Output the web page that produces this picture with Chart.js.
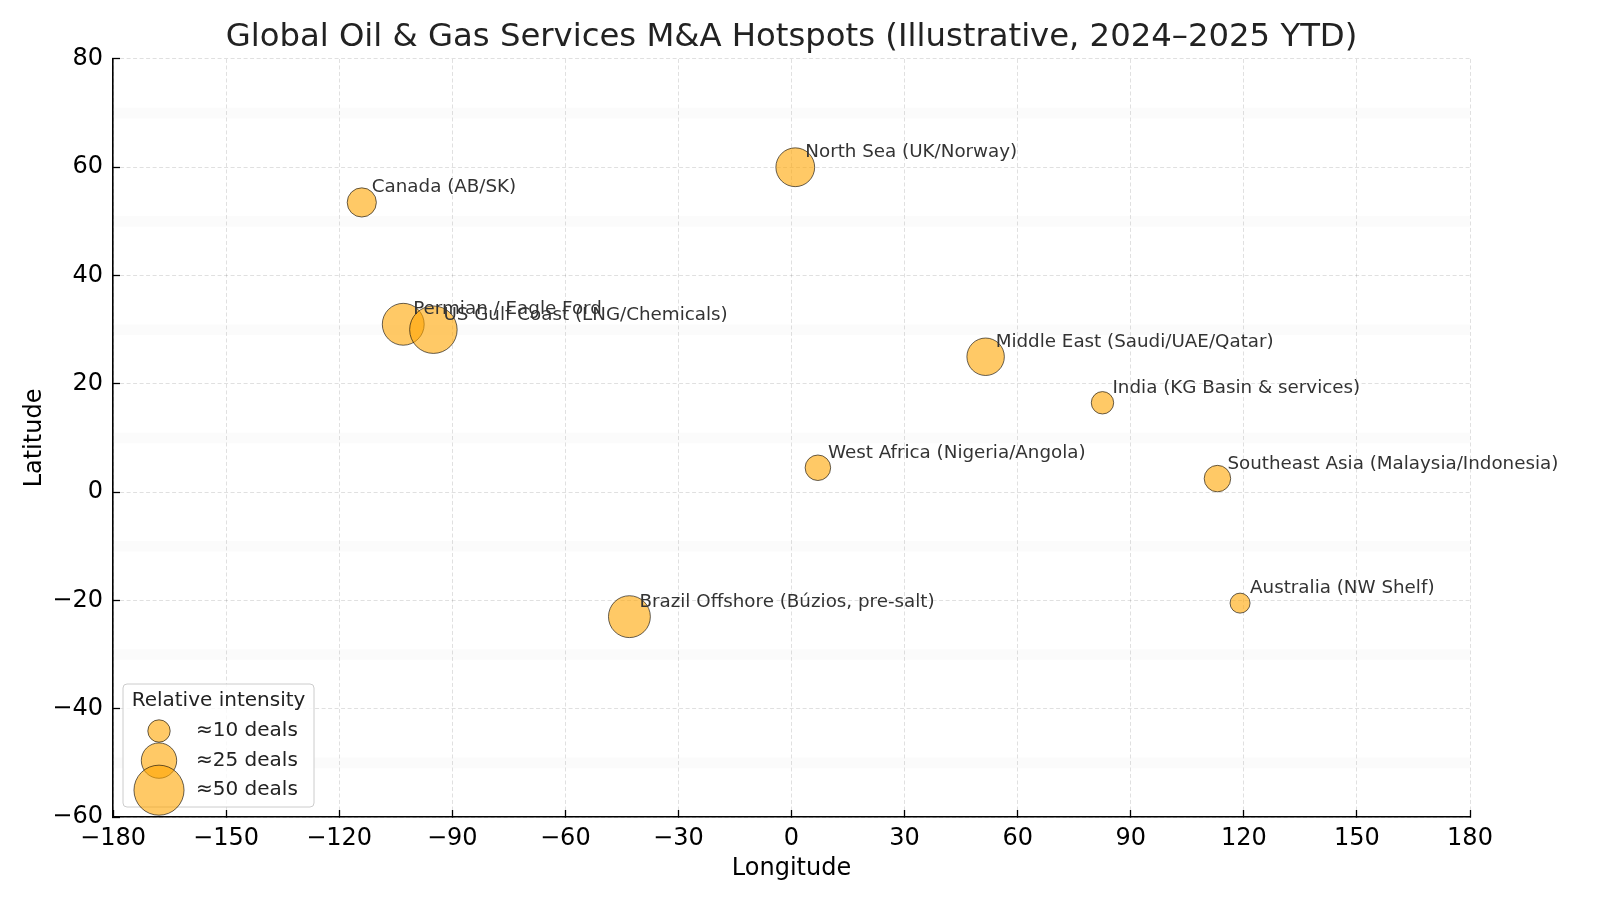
<!DOCTYPE html>
<html>
<head>
<meta charset="utf-8">
<script src="https://cdn.jsdelivr.net/npm/chart.js@4.4.1/dist/chart.umd.min.js"></script>
<style>
  body { margin: 0; background: #fff; }
  #wrap { width: 1600px; height: 902px; }
</style>
</head>
<body>
<div id="wrap"><canvas id="hotspots" width="1600" height="902"></canvas></div>
<script>
// --- data ---
const regions = [
  'Permian / Eagle Ford',
  'US Gulf Coast (LNG/Chemicals)',
  'Canada (AB/SK)',
  'North Sea (UK/Norway)',
  'Middle East (Saudi/UAE/Qatar)',
  'India (KG Basin & services)',
  'West Africa (Nigeria/Angola)',
  'Southeast Asia (Malaysia/Indonesia)',
  'Brazil Offshore (Búzios, pre-salt)',
  'Australia (NW Shelf)'
];
const longitudes = [-103, -95, -114, 1, 51.5, 82.5, 7, 113, -43, 119];
const latitudes = [31, 30, 53.5, 60, 25, 16.5, 4.5, 2.5, -23, -20.5];
const deals = [35, 45, 17, 30, 28, 10, 13, 14, 35, 8];

const legendDeals = [10, 25, 50];
const legendLabels = ['≈10 deals', '≈25 deals', '≈50 deals'];
const bandLats = [70, 50, 30, 10, -10, -30, -50];

const FONT = "'DejaVu Sans', 'Liberation Sans', sans-serif";
const fill = 'rgba(255,165,0,0.6)';
const edge = 'rgba(0,0,0,0.6)';
const sizeFor = d => 3.54 * Math.sqrt(d);   // marker area ~ deals

const points = regions.map((name, i) => ({ x: longitudes[i], y: latitudes[i], r: sizeFor(deals[i]) }));

const minus = v => String(v).replace('-', '\u2212');

// faint latitude bands behind everything
const bands = {
  id: 'bands',
  beforeDraw(chart) {
    const { ctx, chartArea: a, scales: { y } } = chart;
    ctx.save();
    ctx.fillStyle = 'rgba(0,0,0,0.014)';
    bandLats.forEach(c => {
      const y1 = y.getPixelForValue(c + 1), y2 = y.getPixelForValue(c - 1);
      ctx.fillRect(a.left, y1, a.right - a.left, y2 - y1);
    });
    ctx.restore();
  }
};

// text labels next to each bubble
const labels = {
  id: 'labels',
  afterDatasetsDraw(chart) {
    const { ctx, scales: { x, y } } = chart;
    ctx.save();
    ctx.font = '18.3px ' + FONT;
    ctx.fillStyle = '#333';
    ctx.textAlign = 'left';
    ctx.textBaseline = 'alphabetic';
    regions.forEach((name, i) => {
      ctx.fillText(name, x.getPixelForValue(longitudes[i]) + 10, y.getPixelForValue(latitudes[i]) - 10);
    });
    ctx.restore();
  }
};

// size legend in the lower-left corner
const sizeLegend = {
  id: 'sizeLegend',
  afterDraw(chart) {
    const { ctx, chartArea: a } = chart;
    const w = 191, h = 123;
    const left = a.left + 10, top = a.bottom - 10 - h;
    ctx.save();
    ctx.beginPath();
    ctx.roundRect(left, top, w, h, 4);
    ctx.fillStyle = 'rgba(255,255,255,0.8)';
    ctx.fill();
    ctx.strokeStyle = '#cccccc';
    ctx.lineWidth = 1;
    ctx.stroke();
    ctx.font = '20px ' + FONT;
    ctx.fillStyle = '#222';
    ctx.textBaseline = 'middle';
    ctx.textAlign = 'center';
    ctx.fillText('Relative intensity', left + w / 2, top + 17);
    ctx.textAlign = 'left';
    legendDeals.forEach((d, i) => {
      const cy = top + 47 + i * 29.6;
      ctx.beginPath();
      ctx.arc(left + 36, cy, sizeFor(d), 0, Math.PI * 2);
      ctx.fillStyle = fill;
      ctx.fill();
      ctx.strokeStyle = edge;
      ctx.stroke();
      ctx.fillStyle = '#222';
      ctx.fillText(legendLabels[i], left + 73, cy);
    });
    ctx.restore();
  }
};

const gridCommon = {
  color: 'rgba(0,0,0,0.12)',
  lineWidth: 1,
  drawTicks: true,
  tickLength: -7,
  tickColor: '#000',
  tickWidth: 1.3
};

new Chart(document.getElementById('hotspots'), {
  type: 'bubble',
  data: {
    datasets: [{
      label: 'Hotspots',
      data: points,
      backgroundColor: fill,
      borderColor: edge,
      borderWidth: 1,
      hoverRadius: 0
    }]
  },
  options: {
    responsive: false,
    devicePixelRatio: 1,
    animation: false,
    layout: { padding: { left: 0, right: 130, top: 0, bottom: 0 } },
    plugins: {
      legend: { display: false },
      tooltip: { enabled: false },
      title: {
        display: true,
        fullSize: false,
        text: 'Global Oil & Gas Services M&A Hotspots (Illustrative, 2024–2025 YTD)',
        color: '#222',
        font: { family: FONT, size: 32.3, weight: 'normal', lineHeight: 1.2 },
        padding: { top: 18, bottom: 2.2 }
      }
    },
    scales: {
      x: {
        type: 'linear',
        min: -180, max: 180,
        ticks: { stepSize: 30, color: '#000', padding: 14, font: { family: FONT, size: 24 }, callback: minus },
        grid: gridCommon,
        border: { display: true, color: '#000', width: 1.6, dash: [4, 2.5] },
        title: { display: true, text: 'Longitude', color: '#000', font: { family: FONT, size: 24 }, padding: { top: 0, bottom: 18.6 } },
        afterFit(s) { s.height = 85; }
      },
      y: {
        type: 'linear',
        min: -60, max: 80,
        ticks: { stepSize: 20, color: '#000', padding: 17, font: { family: FONT, size: 24 }, callback: minus },
        grid: gridCommon,
        border: { display: true, color: '#000', width: 1.6, dash: [4, 2.5] },
        title: { display: true, text: 'Latitude', color: '#000', font: { family: FONT, size: 24 }, padding: { top: 20.6, bottom: 0 } },
        afterFit(s) { s.width = 113; }
      }
    }
  },
  plugins: [bands, labels, sizeLegend]
});
</script>
</body>
</html>
